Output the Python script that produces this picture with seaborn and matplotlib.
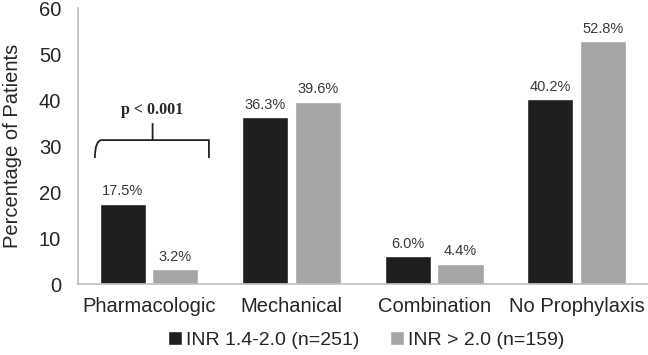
import pandas as pd
import seaborn as sns
import matplotlib.pyplot as plt
from matplotlib.path import Path
from matplotlib.patches import PathPatch

categories = ["Pharmacologic", "Mechanical", "Combination", "No Prophylaxis"]
series = ["INR 1.4-2.0 (n=251)", "INR > 2.0 (n=159)"]
inr_low = [17.5, 36.3, 6.0, 40.2]
inr_high = [3.2, 39.6, 4.4, 52.8]

df = pd.DataFrame({
    "category": categories * 2,
    "group": [series[0]] * 4 + [series[1]] * 4,
    "pct": inr_low + inr_high,
})

sns.set_style("white")
plt.rcParams["font.family"] = ["Liberation Sans", "DejaVu Sans"]

fig = plt.figure(figsize=(6.48, 3.55), dpi=100)
ax = fig.add_axes([0.12, 0.2, 0.88, 0.777])

sns.barplot(data=df, x="category", y="pct", hue="group",
            palette=["#1f1f1f", "#a6a6a6"], width=0.74, gap=0.125,
            saturation=1, ax=ax)

for cont in ax.containers:
    ax.bar_label(cont, fmt="%.1f%%", padding=4, fontsize=10.5, color="#3a3a3a")

ax.set_ylim(0, 60)
ax.set_xlim(-0.5, 3.5)
ax.set_yticks(range(0, 61, 10))
ax.tick_params(axis="both", labelsize=14.5, length=0, pad=12)
ax.tick_params(axis="x", pad=9)
ax.set_xlabel("")
ax.set_ylabel("Percentage of Patients", fontsize=14.5, labelpad=12)
for s in ["top", "right"]:
    ax.spines[s].set_visible(False)
for s in ["left", "bottom"]:
    ax.spines[s].set_color("#bfbfbf")
    ax.spines[s].set_linewidth(1.2)

# curly brace over the pharmacologic pair
x0, x1, xm = -0.38, 0.42, 0.025
yb, yl, yt = 27.4, 31.3, 35.0
verts = [(x0, yb), (x0, yl), (x0 + 0.05, yl), (x0 + 0.09, yl),
         (xm - 0.06, yl), (xm - 0.06, yl), (xm - 0.02, yl),
         (xm, yl), (xm, yt),
         (xm, yl), (xm + 0.02, yl), (xm + 0.06, yl),
         (x1 - 0.09, yl), (x1 - 0.09, yl), (x1 - 0.05, yl),
         (x1, yl), (x1, yb)]
codes = [Path.MOVETO, Path.CURVE3, Path.CURVE3, Path.LINETO,
         Path.LINETO, Path.LINETO, Path.CURVE3, Path.CURVE3,
         Path.LINETO, Path.MOVETO, Path.CURVE3, Path.CURVE3,
         Path.LINETO, Path.LINETO, Path.CURVE3, Path.CURVE3,
         Path.LINETO]
ax.add_patch(PathPatch(Path(verts, codes), fill=False, lw=1.3, color="#222222"))
ax.text(xm, 37.8, "p < 0.001", ha="center", va="center", fontsize=11.5,
        fontweight="bold", family=["Liberation Serif", "DejaVu Serif"])

ax.legend_.remove()
handles, labels = ax.get_legend_handles_labels()
fig.legend(handles, labels, loc="center", bbox_to_anchor=(0.565, 0.042),
           ncol=2, frameon=False, fontsize=14, handlelength=0.7,
           handleheight=0.7, handletextpad=0.2, columnspacing=1.6)

plt.savefig("out.png", dpi=100)
